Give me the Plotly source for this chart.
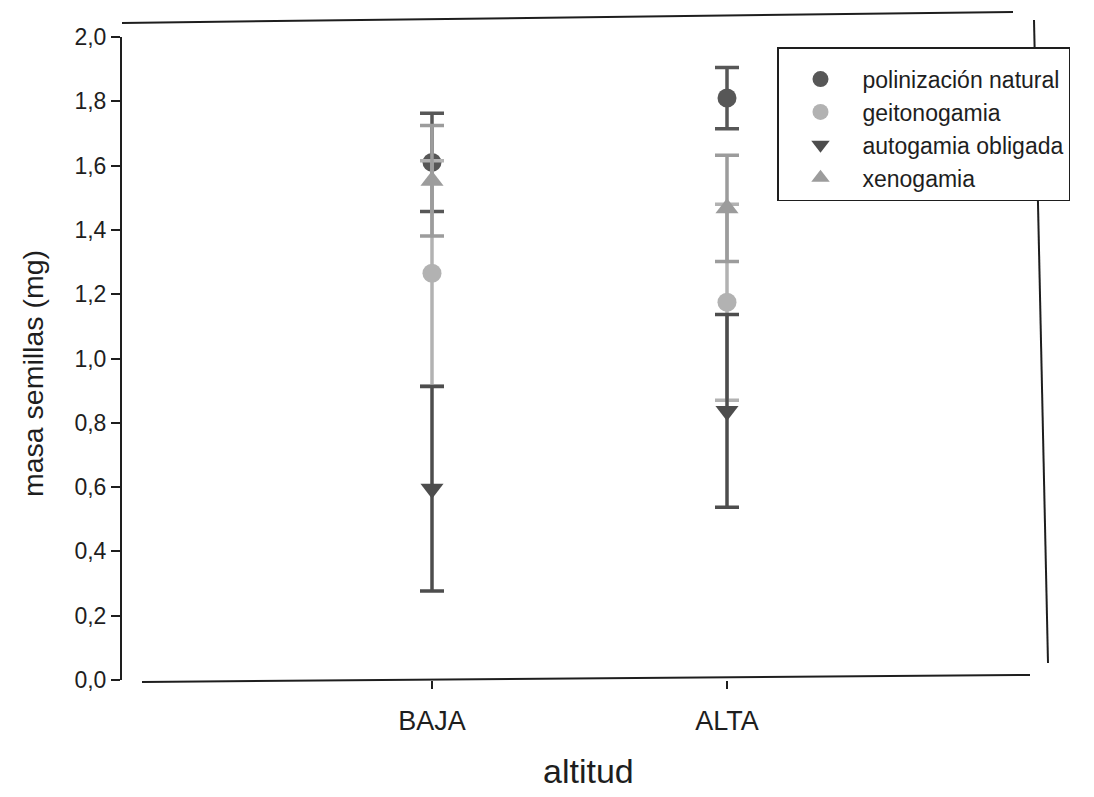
import plotly.graph_objects as go

categories = ["BAJA", "ALTA"]
x_pos = [0, 1]

series_names = ["polinización natural", "geitonogamia", "autogamia obligada", "xenogamia"]
pol_mean = [1.61, 1.81]
pol_err = [0.153, 0.095]
geit_mean = [1.265, 1.175]
geit_err = [0.350, 0.305]
auto_mean = [0.595, 0.837]
auto_err = [0.318, 0.300]
xeno_mean = [1.553, 1.467]
xeno_err = [0.172, 0.165]

y_ticks = [0.0, 0.2, 0.4, 0.6, 0.8, 1.0, 1.2, 1.4, 1.6, 1.8, 2.0]
y_tick_text = [f"{v:.1f}".replace(".", ",") for v in y_ticks]

styles = [
    dict(color="#575757", symbol="circle", size=19),
    dict(color="#b2b2b2", symbol="circle", size=19),
    dict(color="#4d4d4d", symbol="triangle-down", size=20),
    dict(color="#9c9c9c", symbol="triangle-up", size=20),
]
means = [pol_mean, geit_mean, auto_mean, xeno_mean]
errs = [pol_err, geit_err, auto_err, xeno_err]

FONT = "Liberation Sans, Arial, sans-serif"
INK = "#1e1e1e"

fig = go.Figure()
for i, (name, m, e, st) in enumerate(zip(series_names, means, errs, styles)):
    fig.add_trace(go.Scatter(
        x=x_pos, y=m, mode="markers", name=name,
        legendgroup=f"g{i}",
        marker=dict(color=st["color"], symbol=st["symbol"], size=st["size"], line=dict(width=0)),
        error_y=dict(type="data", array=e, visible=True, color=st["color"],
                     thickness=3.5, width=12),
    ))

# page body offsets the figure by 8px; work in reference pixel coords
OFF = 8
W, H = 1094 - OFF, 797 - OFF
L, R, T, B = 122 - OFF, 1040 - OFF, 37 - OFF, 680 - OFF
pw, ph = R - L, B - T

def px(xp):
    return (xp - OFF - L) / pw

def py(yp):
    return (B - (yp - OFF)) / ph

shapes = [
    # x axis baseline
    dict(type="line", xref="paper", yref="paper", x0=px(142), x1=px(1030), y0=py(682), y1=py(675),
         line=dict(color=INK, width=2)),
    # top frame line
    dict(type="line", xref="paper", yref="paper", x0=px(122), x1=px(1013), y0=py(23), y1=py(12),
         line=dict(color=INK, width=2)),
    # right frame line
    dict(type="line", xref="paper", yref="paper", x0=px(1034), x1=px(1048), y0=py(20), y1=py(663),
         line=dict(color=INK, width=2)),
]

annotations = [
    dict(text="masa semillas (mg)", xref="paper", yref="paper", x=px(33), y=py(374),
         textangle=-90, showarrow=False, xanchor="center", yanchor="middle",
         font=dict(size=28.5, family=FONT, color=INK)),
    dict(text="altitud", xref="paper", yref="paper", x=px(588), y=py(771),
         showarrow=False, xanchor="center", yanchor="middle",
         font=dict(size=34, family=FONT, color=INK)),
]

cx0 = 432 - OFF  # pixel of category 0
unit = 295

fig.update_layout(
    width=W, height=H,
    margin=dict(l=L, r=W - R, t=T, b=H - B),
    paper_bgcolor="white", plot_bgcolor="white",
    font=dict(family=FONT, color=INK),
    showlegend=True,
    legend=dict(
        x=px(777), y=py(47), xanchor="left", yanchor="top",
        bordercolor=INK, borderwidth=1.5, bgcolor="white",
        font=dict(size=23, family=FONT, color=INK),
        title=dict(text=" ", font=dict(size=7)),
        traceorder="grouped", tracegroupgap=0,
        itemsizing="trace", itemwidth=74, indentation=0,
    ),
    shapes=shapes,
    annotations=annotations,
    xaxis=dict(
        range=[-(cx0 - L) / unit, (R - cx0) / unit],
        tickvals=x_pos, ticktext=categories,
        showline=False, showgrid=False, zeroline=False,
        ticks="outside", ticklen=8, tickwidth=2, tickcolor=INK,
        ticklabelstandoff=9,
        tickfont=dict(size=27, family=FONT, color=INK),
    ),
    yaxis=dict(
        range=[0, 2.0],
        tickvals=y_ticks, ticktext=y_tick_text,
        showline=True, linecolor=INK, linewidth=2,
        showgrid=False, zeroline=False,
        ticks="outside", ticklen=9, tickwidth=2, tickcolor=INK,
        tickfont=dict(size=23, family=FONT, color=INK),
    ),
)

fig.write_html("out.html")
